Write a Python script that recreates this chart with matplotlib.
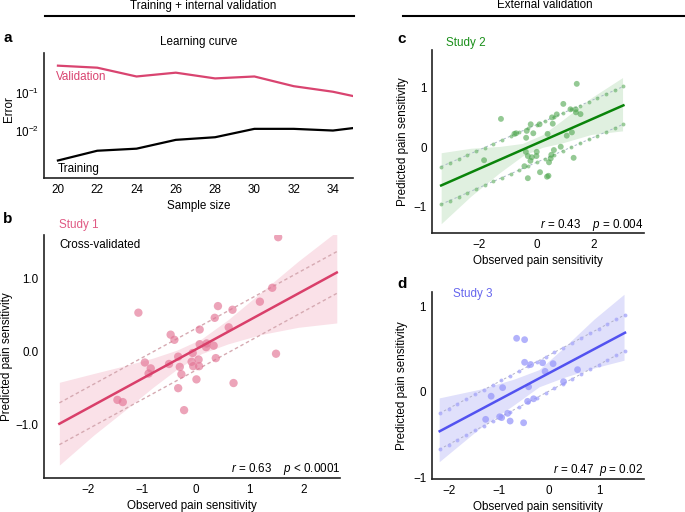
import numpy as np
import matplotlib
matplotlib.use("Agg")
import matplotlib.pyplot as plt

FS = 8.4
plt.rcParams['font.family'] = ['Liberation Sans', 'DejaVu Sans']
plt.rcParams['mathtext.fontset'] = 'custom'
plt.rcParams['mathtext.rm'] = 'Liberation Sans'
plt.rcParams['mathtext.it'] = 'Liberation Sans:italic'
plt.rcParams['font.size'] = FS

# ---- panel a: learning curve ----
sample_size = [20, 22, 24, 26, 28, 30, 32, 34, 35]
err_validation = [0.52, 0.46, 0.27, 0.34, 0.24, 0.27, 0.15, 0.107, 0.083]
err_training = [0.00166, 0.0030, 0.0034, 0.0058, 0.0068, 0.0113, 0.0113, 0.0102, 0.0118]

# ---- panel b: study 1 (cross-validated) ----
s1_obs = [1.53, 1.42, 1.19, 0.68, 0.41, 0.35, 0.61, 0.07, -1.07, -0.47, -0.40, 0.07,
          0.20, 0.19, 0.33, -0.06, -0.33, 1.49, 0.37, 0.05, -0.08, -0.05, 0.06, -0.30,
          -0.50, -0.95, -0.84, -0.88, -0.27, 0.01, -0.33, 0.70, -1.46, -1.36, -0.22]
s1_pred = [1.56, 0.87, 0.68, 0.57, 0.62, 0.46, 0.33, 0.30, 0.53, 0.23, 0.16, 0.10,
           0.11, 0.06, 0.08, -0.02, -0.07, -0.03, -0.09, -0.11, -0.14, -0.20, -0.20, -0.21,
           -0.17, -0.15, -0.23, -0.30, -0.31, -0.38, -0.50, -0.43, -0.66, -0.69, -0.80]
s1_fit = (0.03, 0.40)          # intercept, slope
s1_fit_range = (-2.54, 2.62)
s1_offset = 0.285
s1_band_x = [-2.54, -1.9, -1.3, -0.8, -0.35, 0.1, 0.6, 1.2, 1.9, 2.62]
s1_band_lo = [-1.55, -1.14, -0.79, -0.49, -0.24, -0.03, 0.105, 0.23, 0.33, 0.39]
s1_band_hi = [-0.42, -0.30, -0.19, -0.09, 0.02, 0.17, 0.435, 0.80, 1.23, 1.64]

# ---- panel c: study 2 ----
s2_obs = [1.40, 0.93, 1.18, 1.36, 1.37, 1.53, 0.70, 0.535, 0.56, 0.10, -0.21, -1.25,
          -0.35, -0.12, -0.72, -0.78, 0.38, -0.37, 1.23, 1.05, 0.84, 0.60, -0.38, 0.0,
          -0.31, -0.01, -0.17, -0.22, 0.49, 0.43, 1.29, -1.84, -0.43, -0.31, 0.115,
          0.36, 0.41, 0.51]
s2_pred = [1.055, 0.72, 0.63, 0.63, 0.58, 0.55, 0.545, 0.495, 0.39, 0.38, 0.38, 0.47,
           0.27, 0.23, 0.23, 0.22, 0.22, 0.155, 0.245, 0.19, 0.005, -0.05, -0.08, -0.08,
           -0.15, -0.15, -0.17, -0.23, -0.19, -0.255, -0.18, -0.22, -0.32, -0.52, -0.42,
           -0.495, -0.48, -0.13]
s2_fit = (0.06, 0.21)
s2_fit_range = (-3.34, 3.03)
s2_offset = 0.315
s2_band_x = [-3.34, -2.3, -1.3, -0.5, 0.2, 0.9, 1.9, 3.0]
s2_band_lo = [-1.28, -0.82, -0.43, -0.15, -0.005, 0.07, 0.21, 0.27]
s2_band_hi = [-0.095, -0.02, 0.01, 0.06, 0.205, 0.45, 0.82, 1.16]

# ---- panel d: study 3 ----
s3_obs = [-0.65, -0.49, -0.49, -0.37, -0.13, 0.08, -0.08, 0.57, -0.41, -0.93, -1.16,
          -0.43, -0.31, 0.29, -1.27, -0.95, -0.83, -0.78, -0.51, -0.99]
s3_pred = [0.626, 0.61, 0.346, 0.32, 0.34, 0.33, 0.24, 0.26, 0.06, 0.05, -0.05,
           -0.11, -0.08, 0.12, -0.32, -0.30, -0.25, -0.34, -0.36, -0.29]
s3_fit = (0.22, 0.31)
s3_fit_range = (-2.19, 1.52)
s3_offset = 0.21
s3_band_x = [-2.2, -1.4, -0.7, -0.2, 0.3, 0.9, 1.5]
s3_band_lo = [-0.815, -0.43, -0.15, 0.06, 0.17, 0.28, 0.37]
s3_band_hi = [-0.07, 0.03, 0.15, 0.26, 0.52, 0.85, 1.14]

fig = plt.figure(figsize=(6.85, 5.12), dpi=100)


def fpos(l, t, r, b):
    W, H = 685.0, 512.0
    return [l / W, 1 - b / H, (r - l) / W, (b - t) / H]


def style(ax):
    for s in ['top', 'right']:
        ax.spines[s].set_visible(False)
    for s in ['left', 'bottom']:
        ax.spines[s].set_linewidth(1.2)
        ax.spines[s].set_color('#222222')
    ax.tick_params(length=0, pad=4, labelsize=FS)


# panel a
ax_a = fig.add_axes(fpos(44, 53, 352.6, 178))
style(ax_a)
ax_a.plot(sample_size, err_validation, color='#d94470', lw=1.6)
ax_a.plot(sample_size, err_training, color='black', lw=1.6)
ax_a.set_yscale('log')
ax_a.set_ylim(5.75e-4, 1.12)
ax_a.set_xlim(19.29, 35.0)
ax_a.set_xticks([20, 22, 24, 26, 28, 30, 32, 34])
ax_a.set_yticks([1e-1, 1e-2])
ax_a.yaxis.set_minor_locator(matplotlib.ticker.NullLocator())
ax_a.set_xlabel('Sample size', labelpad=3)
ax_a.set_ylabel('Error')
ax_a.yaxis.set_label_coords(-0.094, 0.55)
ax_a.set_title('Learning curve', fontsize=FS, pad=6)
ax_a.text(0.04, 0.81, 'Validation', color='#d94470', transform=ax_a.transAxes,
          va='center', fontsize=FS)
ax_a.text(0.045, 0.07, 'Training', color='black', transform=ax_a.transAxes,
          va='center', fontsize=FS)


def scatter_panel(ax, obs, pred, fit, rng, off, bx, blo, bhi, pt_color, pt_size,
                  line_color, band_color, dash_color, dotted, dot_color):
    style(ax)
    ax.fill_between(bx, blo, bhi, color=band_color, lw=0, zorder=1)
    xs = np.linspace(rng[0], rng[1], 22)
    ys = fit[0] + fit[1] * xs
    if dotted:
        for sgn in (1, -1):
            ax.plot(xs, ys + sgn * off, ls=(0, (2.5, 2.5)), lw=0.7, color=dash_color,
                    marker='o', ms=2.8, mfc=dot_color, mec='none', zorder=2)
    else:
        for sgn in (1, -1):
            ax.plot(xs, ys + sgn * off, ls=(0, (2.5, 2)), lw=1.0, color=dash_color,
                    zorder=2)
    ax.scatter(obs, pred, s=pt_size, color=pt_color, edgecolors='none', zorder=3)
    ax.plot(xs, ys, color=line_color, lw=1.8, zorder=4)


# panel b
ax_b = fig.add_axes(fpos(44.3, 235, 340, 478.3))
scatter_panel(ax_b, s1_obs, s1_pred, s1_fit, s1_fit_range, s1_offset,
              s1_band_x, s1_band_lo, s1_band_hi, (0.89, 0.45, 0.58, 0.65), 36,
              '#d93f6a', '#fae1e8', '#d6aab2', False, None)
ax_b.set_xlim(-2.82, 2.68)
ax_b.set_ylim(-1.73, 1.59)
ax_b.set_xticks([-2, -1, 0, 1, 2])
ax_b.set_yticks([-1, 0, 1])
ax_b.set_yticklabels(['\u22121.0', '0.0', '1.0'])
ax_b.set_xlabel('Observed pain sensitivity', labelpad=3)
ax_b.set_ylabel('Predicted pain sensitivity')
ax_b.yaxis.set_label_coords(-0.107, 0.5)
ax_b.text(0.05, 1.04, 'Study 1', color='#e05a84', transform=ax_b.transAxes,
          va='center', fontsize=FS)
ax_b.text(0.05, 0.96, 'Cross-validated', color='black', transform=ax_b.transAxes,
          va='center', fontsize=FS)
ax_b.text(1.0, 0.04, r'$\it{r}$ = 0.63    $\it{p}$ < 0.0001', transform=ax_b.transAxes,
          ha='right', va='center', fontsize=FS)

# panel c
ax_c = fig.add_axes(fpos(432.3, 50, 644, 233.3))
scatter_panel(ax_c, s2_obs, s2_pred, s2_fit, s2_fit_range, s2_offset,
              s2_band_x, s2_band_lo, s2_band_hi, (0.30, 0.65, 0.30, 0.6), 18,
              '#0a840a', '#e0f0e0', '#a9b8c8', True, (0.45, 0.72, 0.45, 0.7))
ax_c.set_xlim(-3.65, 3.75)
ax_c.set_ylim(-1.44, 1.62)
ax_c.set_xticks([-2, 0, 2])
ax_c.set_yticks([-1, 0, 1])
ax_c.set_xlabel('Observed pain sensitivity', labelpad=3)
ax_c.set_ylabel('Predicted pain sensitivity')
ax_c.yaxis.set_label_coords(-0.11, 0.5)
ax_c.text(0.065, 1.04, 'Study 2', color='#1a8f1a', transform=ax_c.transAxes,
          va='center', fontsize=FS)
ax_c.text(0.995, 0.045, r'$\it{r}$ = 0.43    $\it{p}$ = 0.004', transform=ax_c.transAxes,
          ha='right', va='center', fontsize=FS)

# panel d
ax_d = fig.add_axes(fpos(431.7, 291.7, 644, 479.3))
scatter_panel(ax_d, s3_obs, s3_pred, s3_fit, s3_fit_range, s3_offset,
              s3_band_x, s3_band_lo, s3_band_hi, (0.60, 0.60, 0.98, 0.75), 24,
              '#5252f0', '#e0e0fb', '#b0b0c8', True, (0.68, 0.68, 0.98, 0.85))
ax_d.set_xlim(-2.35, 1.9)
ax_d.set_ylim(-1.02, 1.17)
ax_d.set_xticks([-2, -1, 0, 1])
ax_d.set_yticks([-1, 0, 1])
ax_d.set_xlabel('Observed pain sensitivity', labelpad=3)
ax_d.set_ylabel('Predicted pain sensitivity')
ax_d.yaxis.set_label_coords(-0.112, 0.5)
ax_d.text(0.1, 0.99, 'Study 3', color='#6666ee', transform=ax_d.transAxes,
          va='center', fontsize=FS)
ax_d.text(0.995, 0.05, r'$\it{r}$ = 0.47  $\it{p}$ = 0.02', transform=ax_d.transAxes,
          ha='right', va='center', fontsize=FS)

# headers and panel letters
fig.text(203 / 685, 1 - 8.5 / 512, 'Training + internal validation', ha='center',
         va='baseline', fontsize=FS)
fig.text(545 / 685, 1 - 8.5 / 512, 'External validation', ha='center', va='baseline',
         fontsize=FS)
fig.add_artist(plt.Line2D([45 / 685, 354 / 685], [1 - 16 / 512] * 2, color='black', lw=1.5))
fig.add_artist(plt.Line2D([403 / 685, 1.0], [1 - 16 / 512] * 2, color='black', lw=1.5))
for lab, x, y in [('a', 3, 38), ('b', 3, 219), ('c', 397, 39), ('d', 397, 284)]:
    fig.text(x / 685, 1 - y / 512, lab, fontsize=11, fontweight='bold', va='center')

fig.savefig('out.png', dpi=100)
